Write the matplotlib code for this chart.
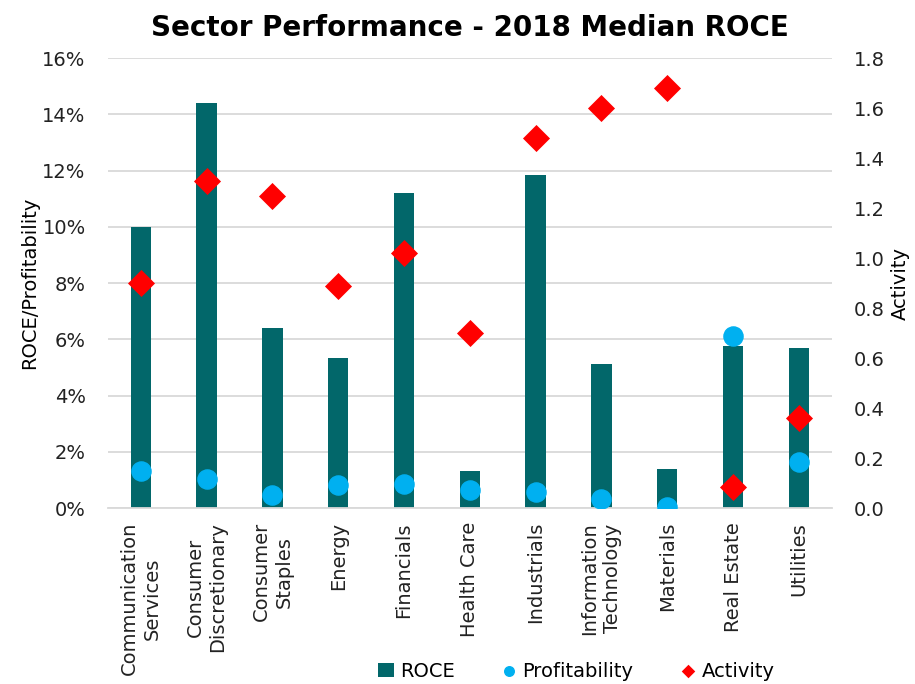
import matplotlib
matplotlib.use("Agg")
import matplotlib.pyplot as plt
from matplotlib.ticker import PercentFormatter
import numpy as np

plt.rcParams['font.family'] = ['DejaVu Sans']

# sector medians, 2018
sectors = ['Communication\nServices', 'Consumer\nDiscretionary', 'Consumer\nStaples',
           'Energy', 'Financials', 'Health Care', 'Industrials',
           'Information\nTechnology', 'Materials', 'Real Estate', 'Utilities']
roce = [10.0, 14.4, 6.4, 5.33, 11.2, 1.34, 11.85, 5.14, 1.41, 5.78, 5.71]
profitability = [1.31, 1.03, 0.48, 0.81, 0.85, 0.64, 0.57, 0.34, 0.06, 6.12, 1.63]
activity = [0.90, 1.31, 1.25, 0.89, 1.02, 0.70, 1.48, 1.60, 1.68, 0.083, 0.36]

TEAL = '#02676A'
BLUE = '#00B0F0'
RED = '#FF0000'

fig = plt.figure(figsize=(9.15, 6.84), dpi=100)
ax = fig.add_axes([0.118, 0.257, 0.791, 0.658])
ax2 = ax.twinx()

x = np.arange(len(sectors))
bars = ax.bar(x, roce, width=0.31, color=TEAL, label='ROCE', zorder=2)
dots = ax.scatter(x, profitability, s=190, color=BLUE, label='Profitability', zorder=4)
dia = ax2.scatter(x, activity, s=190, marker='D', color=RED, label='Activity', zorder=3,
                  linewidths=0)

ax.set_xlim(-0.5, len(sectors) - 0.5)
ax.set_ylim(0, 16)
ax.set_yticks(np.arange(0, 17, 2))
ax.yaxis.set_major_formatter(PercentFormatter(decimals=0))
ax2.set_ylim(0, 1.8)
ax2.set_yticks(np.arange(0, 1.81, 0.2))
ax2.set_yticklabels([f'{v:.1f}' for v in np.arange(0, 1.81, 0.2)])

ax.grid(axis='y', color='#D9D9D9', linewidth=1.3, zorder=0)
ax.set_axisbelow(True)
for a in (ax, ax2):
    for s in a.spines.values():
        s.set_visible(False)
    a.tick_params(length=0, labelsize=14, colors='#222222')
ax.spines['bottom'].set_visible(True)
ax.spines['bottom'].set_color('#D9D9D9')
ax.spines['bottom'].set_linewidth(1.3)

ax.set_xticks(x)
ax.set_xticklabels(sectors, rotation=90, fontsize=14, ha='center', va='top',
                   multialignment='center', linespacing=1.25)
ax.tick_params(axis='x', pad=10)
ax.tick_params(axis='y', pad=16)
ax2.tick_params(axis='y', pad=16)

ax.set_ylabel('ROCE/Profitability', fontsize=14, labelpad=2)
ax2.set_ylabel('Activity', fontsize=14, labelpad=4)

ax.set_title('Sector Performance - 2018 Median ROCE', fontsize=20, fontweight='bold',
             pad=16)

handles = [bars, dots, dia]
fig.legend(handles, [h.get_label() for h in handles], loc='center',
           bbox_to_anchor=(0.63, 0.019), ncol=3, frameon=False, fontsize=14,
           handlelength=0.8, handletextpad=0.3, columnspacing=2.4, markerscale=0.5)

fig.savefig('out.png', dpi=100)
